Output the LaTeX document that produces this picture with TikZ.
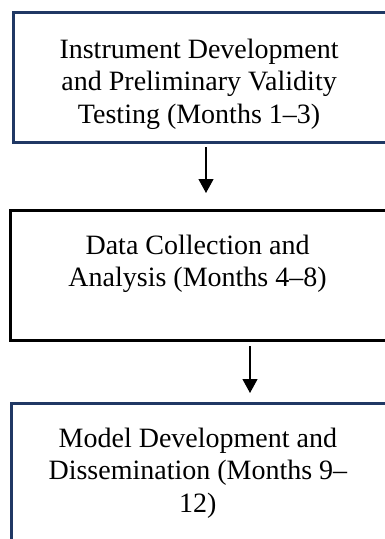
\documentclass[tikz,border=0pt]{standalone}
\usepackage{fontspec}
\setmainfont{Liberation Serif}
\usetikzlibrary{positioning,arrows.meta}
\definecolor{navyline}{HTML}{203864}

\begin{document}
\begin{tikzpicture}[
    x=0.75pt, y=-0.75pt,
    >={Triangle[length=10.5pt, width=11.25pt]},
    font=\fontsize{21pt}{24.15pt}\selectfont,
    stagebox/.style  = {rectangle, draw, line width=2.25pt, outer sep=0pt, inner sep=0pt,
                        anchor=north west, minimum height=97.5pt},
    navybox/.style   = {stagebox, draw=navyline},
    blackbox/.style  = {stagebox, draw=black},
    stagetext/.style = {align=center, inner sep=0pt, xshift=-2pt},
    flow/.style      = {->, line width=0.9pt}
]

% FRAME (boxes run past the right and bottom edges)
\useasboundingbox (0,0) rectangle (385,539);
\clip (0,0) rectangle (385,539);

% STAGE BOXES
\node[navybox, minimum width=282.4pt] (b1) at (13.5,12) {};
\node[blackbox, minimum width=284.6pt, below right=51pt and -2.25pt of b1.south west] (b2) {};
\node[navybox, minimum width=284.3pt, minimum height=120pt,
      below right=47.25pt and 0.4pt of b2.south west] (b3) {};

% STAGE TEXTS
\node[stagetext, below=20.25pt of b1.north] (t1)
    {Instrument Development\\and Preliminary Validity\\Testing (Months 1--3)};
\node[stagetext, below=18.75pt of b2.north] (t2)
    {Data Collection and\\Analysis (Months 4--8)};
\node[stagetext, below=18.75pt of b3.north] (t3)
    {Model Development and\\Dissemination (Months 9--\\12)};

% ARROWS
\coordinate (c1) at (206,0);
\coordinate (c2) at (250,0);
\draw[flow, shorten <=3.75pt, shorten >=12.75pt] (b1.south -| c1) -- (b2.north -| c1);
\draw[flow, shorten <=4.5pt, shorten >=7.5pt] (b2.south -| c2) -- (b3.north -| c2);

\end{tikzpicture}
\end{document}
